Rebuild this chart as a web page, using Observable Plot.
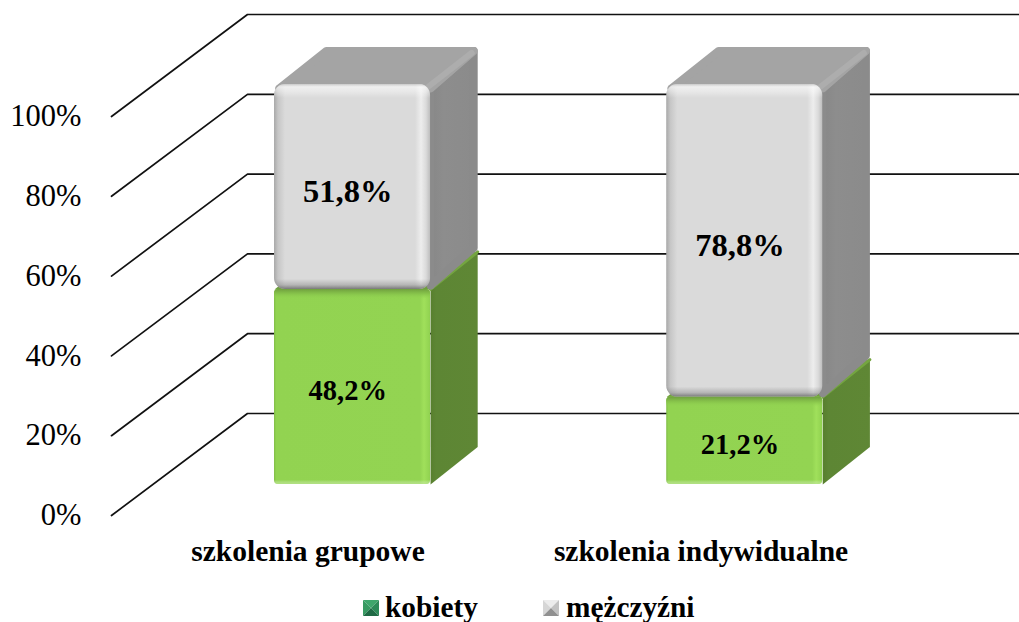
<!DOCTYPE html>
<html>
<head>
<meta charset="utf-8">
<script src="https://cdn.jsdelivr.net/npm/d3@7"></script>
<script src="https://cdn.jsdelivr.net/npm/@observablehq/plot@0.6"></script>
<style>
html,body{margin:0;padding:0;background:#fff;overflow:hidden}
#legend{position:relative;height:30px;font:bold 29.3px "Liberation Serif",serif;color:#000}
#legend svg{position:absolute;top:8px;display:block}
#legend span{position:absolute;top:1px;line-height:28px;white-space:nowrap}
</style>
</head>
<body>
<div id="chart"></div>
<div id="legend"></div>
<script>
const categories = ["szkolenia grupowe", "szkolenia indywidualne"];
const kobiety = [48.2, 21.2];
const mezczyzni = [51.8, 78.8];
const yTicks = [0, 20, 40, 60, 80, 100];
const seriesNames = ["kobiety", "mężczyźni"];

// Layout of the oblique projection, in scale units
const wallDX = 0.346, wallDY = 25.56;   // floor front -> back wall
const barBase = 7.77;                   // bar base above front floor line
const barLeft = 0.4148, barW = 0.397;   // bar front face in category units
const barStep = 0.998;                  // distance between bars
const barDX = 0.12, barDY = 9.4;        // bar front -> bar back
const pxX = 2 / 786, pxY = 100 / 399;   // one pixel in scale units
const seam = 0.7;                       // bevelled seam between stacked segments
const labelShift = -0.012;              // value labels sit slightly left of bar centre
const serif = '"Liberation Serif", serif';

const poly = (pts, fill, strokeWidth = 0, stroke = fill) => Plot.line(pts, {
  x: "x", y: "y", fill, stroke: strokeWidth ? stroke : "none", strokeWidth,
  strokeLinejoin: "round", strokeLinecap: "round"
});

const gridMarks = yTicks.map(v => Plot.line([
  {x: 0, y: v},
  {x: wallDX, y: v + wallDY},
  {x: 2 + wallDX, y: v + wallDY}
], {x: "x", y: "y", stroke: "#111", strokeWidth: 1.7}));

const segments = [];
categories.forEach((c, i) => {
  const x0 = i * barStep + barLeft, x1 = x0 + barW;
  const mid = barBase + kobiety[i] + seam;
  segments.push({id: `g${i}`, kind: "green", x0, x1, lo: barBase, hi: mid, label: kobiety[i]});
  segments.push({id: `s${i}`, kind: "grey", x0, x1, lo: mid, hi: barBase + 100.25, label: mezczyzni[i]});
});

const barMarks = segments.flatMap(s => {
  const {x0, x1, lo, hi} = s;
  const ix = 4 * pxX, iy = 4 * pxY;
  const sidePts = [
    {x: x1, y: lo}, {x: x1 + barDX, y: lo + barDY},
    {x: x1 + barDX, y: hi + barDY}, {x: x1, y: hi}, {x: x1, y: lo}
  ];
  const topPts = [
    {x: x0, y: hi}, {x: x0 + barDX, y: hi + barDY},
    {x: x1 + barDX, y: hi + barDY}, {x: x1, y: hi}, {x: x0, y: hi}
  ];
  if (s.kind === "green") {
    return [
      poly(sidePts, "url(#greenSide)"),
      poly(topPts, "#6f9f3e"),
      Plot.line([{x: x1, y: hi}, {x: x1 + barDX, y: hi + barDY}],
        {x: "x", y: "y", stroke: "#74a540", strokeWidth: 3}),
      Plot.rect([s], {x1: "x0", x2: "x1", y1: "lo", y2: "hi", rx: 4, fill: "url(#greenH)"}),
      Plot.rect([s], {x1: "x0", x2: "x1", y1: "lo", y2: "hi", rx: 4, fill: `url(#v${s.id})`})
    ];
  }
  const sideIn = [
    {x: x1, y: lo + iy}, {x: x1 + barDX - ix, y: lo + barDY + iy},
    {x: x1 + barDX - ix, y: hi + barDY - iy}, {x: x1, y: hi - iy}, {x: x1, y: lo + iy}
  ];
  const topIn = [
    {x: x0 + 1.2 * ix, y: hi - iy}, {x: x0 + barDX + 1.2 * ix, y: hi + barDY - iy},
    {x: x1 + barDX - ix, y: hi + barDY - iy}, {x: x1, y: hi - iy}, {x: x0 + 1.2 * ix, y: hi - iy}
  ];
  return [
    poly(sideIn, "url(#greySide)", 8, "#8b8b8b"),
    poly(topIn, "#a4a4a4", 8),
    Plot.line([{x: x1 - 2 * pxX, y: hi - 2 * pxY}, {x: x1 + barDX - 6 * pxX, y: hi + barDY - 6 * pxY}],
      {x: "x", y: "y", stroke: "#adadad", strokeWidth: 6, strokeLinecap: "round"}),
    Plot.rect([s], {x1: "x0", x2: "x1", y1: "lo", y2: "hi", rx: 11, fill: "url(#greyH)"}),
    Plot.rect([s], {x1: "x0", x2: "x1", y1: "lo", y2: "hi", rx: 11, fill: `url(#v${s.id})`})
  ];
});

const plot = Plot.plot({
  width: 1019,
  height: 592,
  marginLeft: 111,
  marginRight: 122,
  marginTop: 116,
  marginBottom: 77,
  style: {background: "transparent", overflow: "hidden"},
  x: {domain: [0, 2]},
  y: {domain: [0, 100]},
  marks: [
    Plot.axisY({
      ticks: yTicks, tickFormat: d => d + "%", tickSize: 0, tickPadding: 30,
      fontSize: 30.5, fontFamily: serif, fill: "#000", label: null
    }),
    Plot.axisX({
      ticks: [0.5, 1.5], tickFormat: d => categories[d - 0.5], tickSize: 0, tickPadding: 25,
      fontSize: 29.5, fontFamily: serif, fontWeight: "bold", fill: "#000", label: null
    }),
    ...gridMarks,
    ...barMarks,
    ...segments.map(s => Plot.text([s], {
      x: d => (d.x0 + d.x1) / 2 + labelShift,
      y: d => (d.lo + d.hi) / 2,
      text: d => d.label.toFixed(1).replace(".", ",") + "%",
      dy: s.kind === "grey" ? 5 : 4,
      fontSize: s.kind === "grey" ? 32.5 : 28.5,
      fontWeight: "bold", fontFamily: serif, fill: "#000"
    }))
  ]
});

// Gradients used by the bevelled faces
const defs = d3.select(plot).insert("defs", ":first-child");
const yS = plot.scale("y").apply;
function grad(id, stops, attrs) {
  const g = defs.append("linearGradient").attr("id", id);
  Object.entries(attrs).forEach(([k, v]) => g.attr(k, v));
  stops.forEach(([o, c, a = 1]) =>
    g.append("stop").attr("offset", o).attr("stop-color", c).attr("stop-opacity", a));
}
const H = {x1: 0, x2: 1, y1: 0, y2: 0};
const fx = px => px / 156;
grad("greyH", [
  [0, "#a8a8a8"], [fx(4), "#c6c6c6"], [fx(11), "#dadada"],
  [fx(141), "#dadada"], [fx(147), "#ededed"], [fx(152), "#dadada"], [1, "#bdbdbd"]
], H);
grad("greenH", [
  [0, "#7fbb45"], [fx(2), "#92d351"], [fx(146), "#93d452"], [fx(150), "#a0e05b"],
  [fx(155), "#93d452"], [1, "#8fce50"]
], H);
grad("greySide", [[0, "#7d7d7d"], [0.1, "#898989"], [0.3, "#8d8d8d"], [1, "#8b8b8b"]], H);
grad("greenSide", [[0, "#587f2e"], [0.12, "#5d8634"], [1, "#5f8735"]], H);
segments.forEach(s => {
  const top = yS(s.hi), bot = yS(s.lo), h = bot - top, f = px => Math.min(1, px / h);
  const attrs = {gradientUnits: "userSpaceOnUse", x1: 0, x2: 0, y1: top, y2: bot};
  if (s.kind === "grey") {
    grad(`v${s.id}`, [
      [0, "#c4c4c4", 0.8], [f(3), "#ffffff", 0.6], [f(8), "#ffffff", 0.35], [f(14), "#ffffff", 0],
      [1 - f(10), "#707070", 0], [1 - f(4), "#707070", 0.35], [1, "#6a6a6a", 0.85]
    ], attrs);
  } else {
    grad(`v${s.id}`, [
      [0, "#6f9f3e", 1], [f(5), "#86c24a", 0.9], [f(10), "#92d351", 0], [1 - f(4), "#ffffff", 0], [1, "#c4e8a0", 0.6]
    ], attrs);
  }
});
document.getElementById("chart").appendChild(plot);

// Legend
const swatchColors = [
  {top: "#3fa66c", left: "#389a62", right: "#2c8a58", bottom: "#1f6a45"},
  {top: "#ececec", left: "#d6d6d6", right: "#c2c2c2", bottom: "#909090"}
];
const legendPos = [{sw: 363, tx: 385}, {sw: 543, tx: 566}];
const legend = d3.select("#legend");
seriesNames.forEach((n, i) => {
  const c = swatchColors[i];
  const s = legend.append("svg").attr("width", 16).attr("height", 16).style("left", legendPos[i].sw + "px");
  [["0,0 16,0 8,8", c.top], ["0,0 0,16 8,8", c.left], ["16,0 16,16 8,8", c.right], ["0,16 16,16 8,8", c.bottom]]
    .forEach(([p, f]) => s.append("polygon").attr("points", p).attr("fill", f));
  legend.append("span").style("left", legendPos[i].tx + "px").text(n);
});
</script>
</body>
</html>
